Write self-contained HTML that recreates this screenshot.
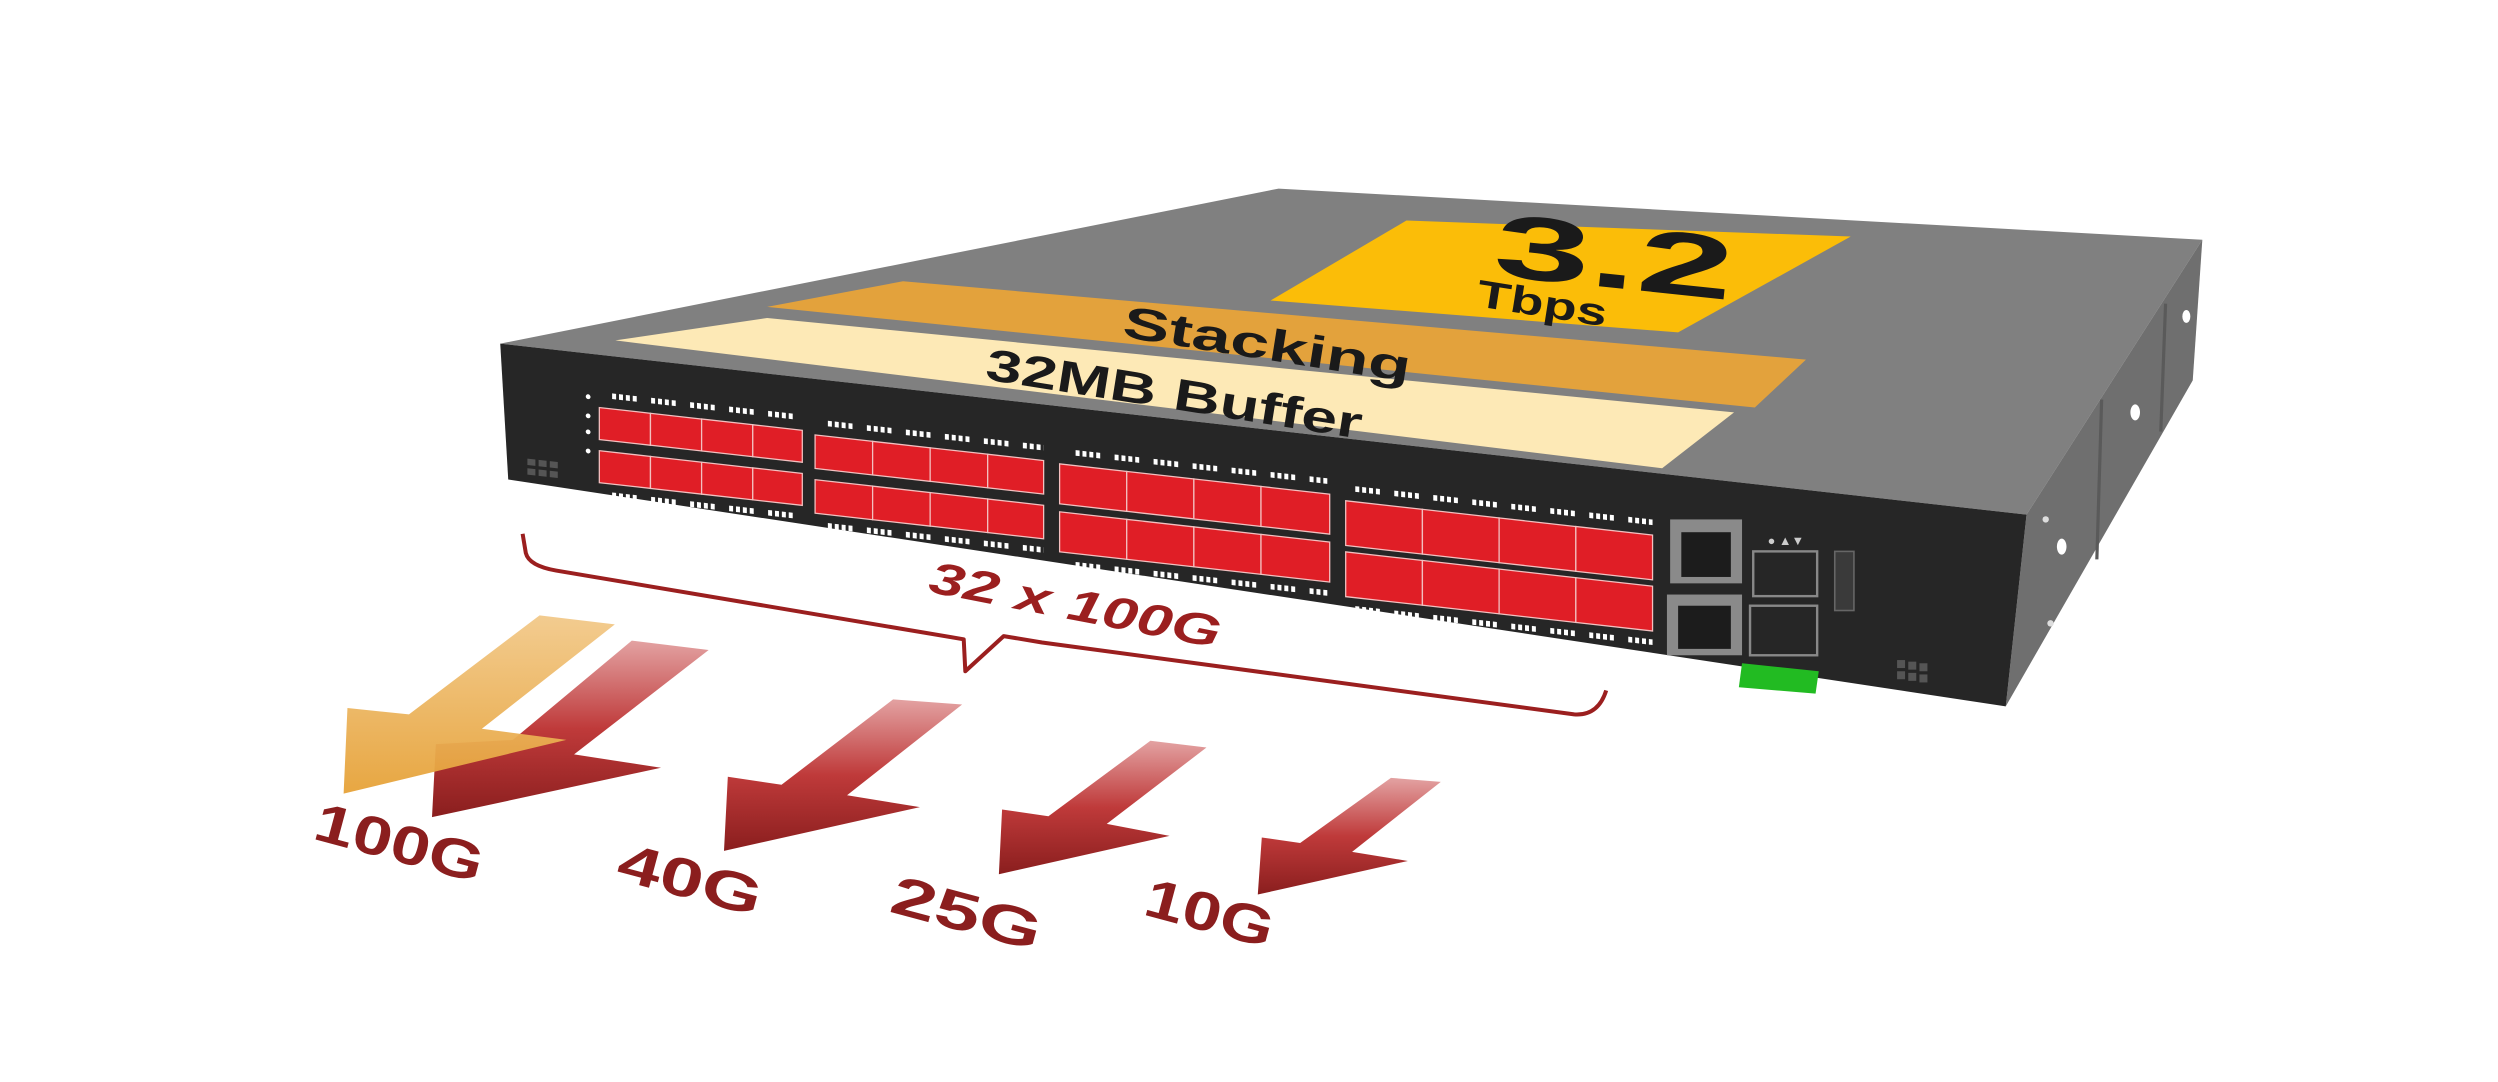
<!DOCTYPE html>
<html><head><meta charset="utf-8"><style>
html,body{margin:0;padding:0;background:#fff;}
svg{display:block;}
text{font-family:"Liberation Sans",sans-serif;}
</style></head><body>
<svg width="2498" height="1082" viewBox="0 0 1563 677" xmlns="http://www.w3.org/2000/svg">
<defs>
<linearGradient id="gy" x1="0" y1="0" x2="0" y2="1"><stop offset="0" stop-color="#f2c98a"/><stop offset="1" stop-color="#e6a238"/></linearGradient>
<linearGradient id="gr" x1="0" y1="0" x2="0" y2="1"><stop offset="0" stop-color="#e3a2a2"/><stop offset="0.5" stop-color="#bf3a3a"/><stop offset="1" stop-color="#8a1e1e"/></linearGradient>
</defs>
<polygon points="313,215 800,118 1378,150 1268,322" fill="#808080"/>
<polygon points="1268,322 1378,150 1372,238 1255,442" fill="#6f6f6f"/>
<line x1="1315" y1="250" x2="1312" y2="350" stroke="#5a5a5a" stroke-width="2"/>
<line x1="1355" y1="190" x2="1352" y2="270" stroke="#5a5a5a" stroke-width="2"/>
<ellipse cx="1290" cy="342" rx="3" ry="5" fill="#fff"/>
<ellipse cx="1336" cy="258" rx="3" ry="5" fill="#fff"/>
<ellipse cx="1368" cy="198" rx="2.5" ry="4" fill="#fff"/>
<circle cx="1280" cy="325" r="2" fill="#ddd"/><circle cx="1283" cy="390" r="2" fill="#ddd"/>
<polygon points="313,215 1268,322 1255,442 318,300" fill="#262626"/>
<polygon points="795,188 880,138 1158,148 1050,208" fill="#fbbd08"/>
<polygon points="480,192 565,176 1130,225 1098,255" fill="#e3a23c"/>
<polygon points="385,213 480,199 1085,258 1040,293" fill="#fde9b6"/>
<text x="1010" y="180" font-size="56" font-weight="bold" fill="#1a1a1a" text-anchor="middle" textLength="150" lengthAdjust="spacingAndGlyphs" transform="rotate(6 1010 162)">3.2</text>
<text x="965" y="198" font-size="24" font-weight="bold" fill="#1a1a1a" text-anchor="middle" textLength="82" lengthAdjust="spacingAndGlyphs" transform="rotate(9 965 190)">Tbps</text>
<text x="793" y="225" font-size="28" font-weight="bold" fill="#1a1a1a" text-anchor="middle" textLength="182" lengthAdjust="spacingAndGlyphs" transform="rotate(9 793 215)">Stacking</text>
<text x="735" y="256" font-size="28" font-weight="bold" fill="#1a1a1a" text-anchor="middle" textLength="238" lengthAdjust="spacingAndGlyphs" transform="rotate(9 735 245)">32MB Buffer</text>
<g transform="matrix(1,0.112,0,1,0,-35)">
 <g fill="#e01e26" stroke="#f3c0c0" stroke-width="0.8">
  <rect x="375" y="248" width="32" height="20"/><rect x="407" y="248" width="32" height="20"/><rect x="439" y="248" width="32" height="20"/><rect x="471" y="248" width="31" height="20"/>
  <rect x="375" y="275" width="32" height="20"/><rect x="407" y="275" width="32" height="20"/><rect x="439" y="275" width="32" height="20"/><rect x="471" y="275" width="31" height="20"/>
  <rect x="510" y="250" width="36" height="21"/><rect x="546" y="250" width="36" height="21"/><rect x="582" y="250" width="36" height="21"/><rect x="618" y="250" width="35" height="21"/>
  <rect x="510" y="278" width="36" height="21"/><rect x="546" y="278" width="36" height="21"/><rect x="582" y="278" width="36" height="21"/><rect x="618" y="278" width="35" height="21"/>
  <rect x="663" y="251" width="42" height="25"/><rect x="705" y="251" width="42" height="25"/><rect x="747" y="251" width="42" height="25"/><rect x="789" y="251" width="43" height="25"/>
  <rect x="663" y="281" width="42" height="25"/><rect x="705" y="281" width="42" height="25"/><rect x="747" y="281" width="42" height="25"/><rect x="789" y="281" width="43" height="25"/>
  <rect x="842" y="254" width="48" height="28"/><rect x="890" y="254" width="48" height="28"/><rect x="938" y="254" width="48" height="28"/><rect x="986" y="254" width="48" height="28"/>
  <rect x="842" y="286" width="48" height="28"/><rect x="890" y="286" width="48" height="28"/><rect x="938" y="286" width="48" height="28"/><rect x="986" y="286" width="48" height="28"/>
 </g>
 <g stroke="#fff" stroke-width="3.5" stroke-dasharray="2.5 1.8 2.5 1.8 2.5 1.8 2.5 9">
  <line x1="383" y1="240" x2="502" y2="240"/><line x1="383" y1="302" x2="502" y2="302"/>
  <line x1="518" y1="242" x2="653" y2="242"/><line x1="518" y1="306" x2="653" y2="306"/>
  <line x1="673" y1="243" x2="832" y2="243"/><line x1="673" y1="313" x2="832" y2="313"/>
  <line x1="848" y1="246" x2="1034" y2="246"/><line x1="848" y1="321" x2="1034" y2="321"/>
 </g>
 <g fill="#fff"><circle cx="368" cy="242" r="1.5"/><circle cx="368" cy="254" r="1.5"/><circle cx="368" cy="264" r="1.5"/><circle cx="368" cy="276" r="1.5"/></g>
 <g fill="#555"><rect x="330" y="285" width="5" height="4"/><rect x="337" y="285" width="5" height="4"/><rect x="344" y="285" width="5" height="4"/><rect x="330" y="291" width="5" height="4"/><rect x="337" y="291" width="5" height="4"/><rect x="344" y="291" width="5" height="4"/></g>
</g>
<rect x="1045" y="325" width="45" height="40" fill="#8a8a8a"/><rect x="1052" y="333" width="31" height="28" fill="#1c1c1c"/>
<rect x="1043" y="372" width="47" height="38" fill="#8a8a8a"/><rect x="1050" y="379" width="33" height="27" fill="#1c1c1c"/>
<rect x="1097" y="345" width="40" height="28" fill="none" stroke="#888" stroke-width="1.5"/>
<rect x="1095" y="379" width="42" height="31" fill="none" stroke="#888" stroke-width="1.5"/>
<rect x="1148" y="345" width="12" height="37" fill="#3a3a3a" stroke="#666"/>
<text x="1106" y="341" font-size="8" fill="#ccc">● ▲▼</text>
<polygon points="1090,415 1138,420 1136,434 1088,430" fill="#22bb22"/>
<g fill="#555"><rect x="1187" y="413" width="5" height="5"/><rect x="1194" y="414" width="5" height="5"/><rect x="1201" y="415" width="5" height="5"/><rect x="1187" y="420" width="5" height="5"/><rect x="1194" y="421" width="5" height="5"/><rect x="1201" y="422" width="5" height="5"/></g>
<path d="M327,334 L329,346 Q331,354 348,357 L603,400 L604,420 L628,398 L652,402 L985,447 Q1000,448 1005,432" fill="none" stroke="#9b1f1f" stroke-width="2.5" stroke-linejoin="round"/>
<text x="673" y="388" font-size="28" font-style="italic" font-weight="bold" fill="#9b1f1f" text-anchor="middle" textLength="185" lengthAdjust="spacingAndGlyphs" transform="rotate(11 673 377)">32 x 100G</text>
<polygon points="395.3,400.8 443.4,406.7 359.2,472 413.6,480.4 270.3,511.3 272.7,465.6 320.8,463" fill="url(#gr)"/>
<polygon points="337.6,385 384.7,390.7 301.5,456 354.4,462.9 215,496.6 217.4,443 255.9,447" fill="url(#gy)" opacity="0.95"/>
<polygon points="558.8,437.6 602,440.8 530,497.6 575.6,505 453,532.4 455.4,486 489,491" fill="url(#gr)"/>
<polygon points="719.8,463.5 754.9,467.7 692.5,515.5 731.8,523 625,547 627,506.5 656,510.7" fill="url(#gr)"/>
<polygon points="870.3,486.7 901.5,489.2 846,533 880.9,538.7 787,559.7 789.5,524 813.5,527.5" fill="url(#gr)"/>
<g font-size="34" font-weight="bold" fill="#8b1e1e" text-anchor="middle" lengthAdjust="spacingAndGlyphs">
<text x="250" y="539" textLength="108" lengthAdjust="spacingAndGlyphs" transform="rotate(15 250 527)">100G</text>
<text x="432" y="562" textLength="92" lengthAdjust="spacingAndGlyphs" transform="rotate(15 432 550)">40G</text>
<text x="605" y="583" textLength="96" lengthAdjust="spacingAndGlyphs" transform="rotate(15 605 571)">25G</text>
<text x="757" y="583" textLength="82" lengthAdjust="spacingAndGlyphs" transform="rotate(15 757 571)">10G</text>
</g>
</svg>
</body></html>
